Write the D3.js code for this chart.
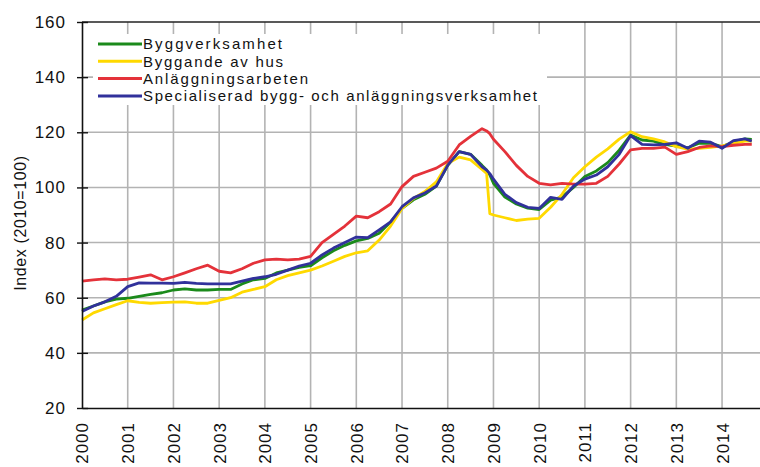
<!DOCTYPE html>
<html>
<head>
<meta charset="utf-8">
<script src="https://cdn.jsdelivr.net/npm/d3@7"></script>
<style>
  html, body { margin: 0; padding: 0; background: #fff; }
  svg { display: block; font-family: "Liberation Sans", Arial, sans-serif; }
</style>
</head>
<body>
<svg id="chart" width="760" height="467"></svg>
<script>
// ---- data ----
const dates = [
  2000.00, 2000.25, 2000.50, 2000.75,
  2001.00, 2001.25, 2001.50, 2001.75,
  2002.00, 2002.25, 2002.50, 2002.75,
  2003.00, 2003.25, 2003.50, 2003.75,
  2004.00, 2004.25, 2004.50, 2004.75,
  2005.00, 2005.25, 2005.50, 2005.75,
  2006.00, 2006.25, 2006.50, 2006.75,
  2007.00, 2007.25, 2007.50, 2007.75,
  2008.00, 2008.25, 2008.50, 2008.75, 2008.85, 2008.92,
  2009.00, 2009.25, 2009.50, 2009.75,
  2010.00, 2010.25, 2010.50, 2010.75,
  2011.00, 2011.25, 2011.50, 2011.75,
  2012.00, 2012.25, 2012.50, 2012.75,
  2013.00, 2013.25, 2013.50, 2013.75,
  2014.00, 2014.25, 2014.50, 2014.65
];
const byggverksamhet = [
  55.5, 57.0, 58.5, 59.5,
  59.8, 60.5, 61.2, 61.8,
  62.8, 63.2, 62.8, 62.8,
  63.0, 63.0, 65.0, 66.5,
  67.0, 69.0, 70.0, 71.0,
  71.6, 74.5, 77.0, 79.0,
  80.6, 81.5, 83.4, 87.5,
  92.4, 95.5, 97.5, 100.5,
  108.0, 113.0, 112.0, 108.0, 106.3, 104.5,
  101.5, 96.5, 94.0, 92.5,
  92.0, 95.4, 96.5, 100.0,
  104.0, 106.0, 109.0, 113.5,
  119.0, 117.2, 116.8, 115.6,
  115.0, 114.4, 116.0, 116.0,
  114.8, 116.5, 117.6, 117.4
];
const byggandeAvHus = [
  51.9, 54.5, 56.0, 57.5,
  58.9, 58.3, 58.0, 58.2,
  58.4, 58.5, 58.0, 58.0,
  59.0, 60.0, 62.0, 63.0,
  64.0, 66.5, 68.0, 69.0,
  70.0, 71.5, 73.2, 75.0,
  76.3, 77.0, 80.9, 86.0,
  92.4, 96.0, 98.5, 102.0,
  108.7, 111.0, 110.0, 106.5, 105.1, 90.5,
  90.0, 89.0, 88.0, 88.5,
  88.8, 92.8, 97.5, 103.5,
  107.5, 111.0, 114.0, 117.5,
  120.2, 118.4, 117.6, 116.5,
  114.8, 113.9, 114.2, 114.5,
  115.1, 116.0, 116.8, 116.8
];
const anlaggningsarbeten = [
  66.0, 66.5, 66.8, 66.5,
  66.7, 67.5, 68.3, 66.5,
  67.6, 69.0, 70.5, 71.8,
  69.6, 69.0, 70.5, 72.5,
  73.7, 74.0, 73.7, 74.0,
  75.0, 80.0, 83.0, 86.0,
  89.6, 89.0, 91.2, 94.0,
  100.3, 104.0, 105.5, 107.0,
  109.5, 115.4, 118.5, 121.3, 120.5, 119.5,
  117.5, 113.0, 108.0, 104.0,
  101.5, 100.9, 101.5, 101.2,
  101.2, 101.5, 104.0, 108.5,
  113.6, 114.2, 114.2, 114.6,
  112.0, 113.0, 114.5, 115.1,
  114.8, 115.3, 115.6, 115.6
];
const specialiserad = [
  55.0, 57.0, 58.5, 60.5,
  64.0, 65.4, 65.3, 65.3,
  65.2, 65.6, 65.2, 65.0,
  65.0, 65.0, 66.0, 67.0,
  67.6, 68.5, 70.0, 71.5,
  72.5, 75.5, 78.0, 80.0,
  82.0, 81.8, 84.6, 87.5,
  93.0, 96.2, 98.0, 100.5,
  108.1, 113.0, 112.0, 107.5, 106.3, 105.0,
  103.0, 97.5, 94.5, 92.8,
  92.4, 96.4, 95.7, 100.5,
  103.0, 104.5, 107.5, 112.0,
  118.8, 115.6, 115.4, 115.6,
  116.2, 114.2, 116.8, 116.4,
  114.2, 117.0, 117.6, 116.8
];
const seriesNames = [
  "Byggverksamhet",
  "Byggande av hus",
  "Anläggningsarbeten",
  "Specialiserad bygg- och anläggningsverksamhet"
];
const seriesColors = ["#1b8a1b", "#ffd900", "#e4323a", "#31319b"];
const yTicks = [20, 40, 60, 80, 100, 120, 140, 160];
const xTicks = [2000, 2001, 2002, 2003, 2004, 2005, 2006, 2007, 2008, 2009, 2010, 2011, 2012, 2013, 2014];
const yTitle = "Index (2010=100)";

const seriesValues = [byggverksamhet, byggandeAvHus, anlaggningsarbeten, specialiserad];

// ---- layout ----
const svg = d3.select("#chart");
const x = d3.scaleLinear().domain([2000, 2014.83]).range([82, 760]);
const y = d3.scaleLinear().domain([20, 160]).range([408, 22]);

// gridlines
const grid = svg.append("g");
grid.selectAll("line.h").data(yTicks.filter(d => d > 20 && d < 160)).join("line")
  .attr("x1", x(2000)).attr("x2", 760)
  .attr("y1", d => y(d)).attr("y2", d => y(d))
  .attr("stroke", "#b3b3b3").attr("stroke-width", 1.6);
grid.selectAll("line.v").data(xTicks.filter(d => d > 2000)).join("line")
  .attr("x1", d => x(d)).attr("x2", d => x(d))
  .attr("y1", y(160)).attr("y2", y(20))
  .attr("stroke", "#b3b3b3").attr("stroke-width", 1.6);

// top border line
svg.append("line").attr("x1", x(2000)).attr("x2", 760)
  .attr("y1", y(160)).attr("y2", y(160)).attr("stroke", "#222").attr("stroke-width", 1.4);

// legend background (covers gridlines)
svg.append("rect").attr("x", 93).attr("y", 34).attr("width", 454).attr("height", 71).attr("fill", "#fff");

// lines
const line = d3.line().x((d, i) => x(dates[i])).y(d => y(d));
svg.append("g").selectAll("path").data(seriesValues).join("path")
  .attr("d", d => line(d))
  .attr("fill", "none")
  .attr("stroke", (d, i) => seriesColors[i])
  .attr("stroke-width", 2.8)
  .attr("stroke-linejoin", "round");

// y axis
const yAxis = d3.axisLeft(y).tickValues(yTicks).tickFormat(d3.format("d")).tickSize(5).tickSizeOuter(0).tickPadding(11);
const gy = svg.append("g").attr("transform", `translate(${x(2000)},0)`).call(yAxis);
gy.select(".domain").attr("stroke", "#111").attr("stroke-width", 1.6);
gy.selectAll(".tick line").attr("x2", 6).attr("x1", -5).attr("stroke", "#111").attr("stroke-width", 1.4);
gy.selectAll(".tick text").attr("font-size", 17).attr("letter-spacing", 1).attr("fill", "#111")
  .attr("font-family", '"Liberation Sans", Arial, sans-serif');

// x axis
const xAxis = d3.axisBottom(x).tickValues(xTicks).tickFormat(d3.format("d")).tickSize(0).tickSizeOuter(0);
const gx = svg.append("g").attr("transform", `translate(0,${y(20)})`).call(xAxis);
gx.select(".domain").attr("stroke", "#111").attr("stroke-width", 1.6);
gx.selectAll(".tick text")
  .attr("font-size", 17).attr("letter-spacing", 1).attr("fill", "#111")
  .attr("font-family", '"Liberation Sans", Arial, sans-serif')
  .attr("text-anchor", "end")
  .attr("transform", "rotate(-90)")
  .attr("x", -14).attr("y", 0).attr("dy", "0.35em");

// y title
svg.append("text")
  .attr("transform", `translate(26,${(y(160) + y(20)) / 2 + 8}) rotate(-90)`)
  .attr("text-anchor", "middle")
  .attr("font-size", 16).attr("letter-spacing", 0.6).attr("fill", "#111")
  .text(yTitle);

// legend
const legendWidths = [139, 140, 165, 394];
const lg = svg.append("g");
seriesNames.forEach((name, i) => {
  const cy = 44 + i * 17.3;
  lg.append("line").attr("x1", 98).attr("x2", 142).attr("y1", cy).attr("y2", cy)
    .attr("stroke", seriesColors[i]).attr("stroke-width", 3);
  lg.append("text").attr("x", 143).attr("y", cy).attr("dy", "0.36em")
    .attr("font-size", 15).attr("fill", "#111")
    .attr("textLength", legendWidths[i]).attr("lengthAdjust", "spacing")
    .text(name);
});
</script>
</body>
</html>
